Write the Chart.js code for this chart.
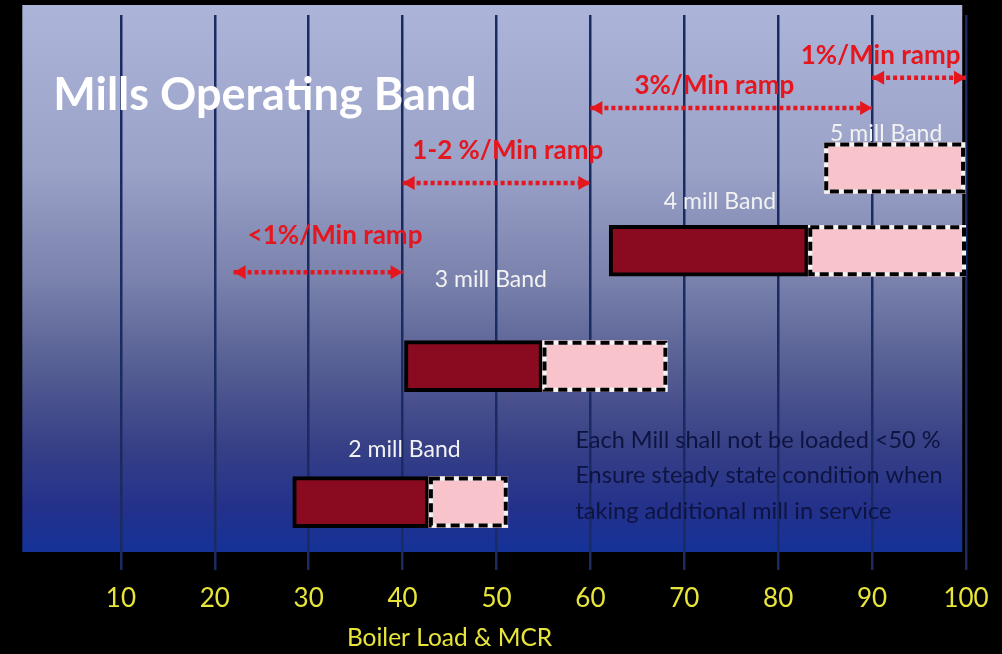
<!DOCTYPE html>
<html><head><meta charset="utf-8">
<script src="https://cdn.jsdelivr.net/npm/chart.js@4.4.1/dist/chart.umd.min.js"></script>
<style>html,body{margin:0;padding:0;background:#000;}canvas{display:block;}</style>
</head><body>
<canvas id="c" width="1002" height="654"></canvas>
<script>
// ---- data ----
const bandNames   = ['2 mill Band', '3 mill Band', '4 mill Band', '5 mill Band'];
const bandRow     = [9.07, 6.54, 4.39, 2.85];
const runStart    = [28.3, 40.2, 62.0, null];
const runEnd      = [42.8, 54.9, 83.2, null];
const spareStart  = [42.8, 54.9, 83.2, 84.9];
const spareEnd    = [51.2, 68.2, 100, 99.9];
const rampLabels  = ['<1%/Min ramp', '1-2 %/Min ramp', '3%/Min ramp', '1%/Min ramp'];
const rampFrom    = [22, 40, 60, 90];
const rampTo      = [40, 60, 90, 100];
const rampRow     = [4.79, 3.13, 1.73, 1.17];
const tickValues  = [10, 20, 30, 40, 50, 60, 70, 80, 90, 100];
const chartTitle  = 'Mills Operating Band';
const axisTitle   = 'Boiler Load & MCR';
const noteLines   = ['Each Mill shall not be loaded <50 %',
                     'Ensure steady state condition when',
                     'taking additional mill in service'];

const RED = '#e5161d';
const YELLOW = '#e8e53a';
const FONT = 'Lato, "Open Sans", sans-serif';

const runData = [], spareData = [];
bandRow.forEach((r, i) => {
  if (runStart[i] !== null) runData.push({ y: r, x: [runStart[i], runEnd[i]] });
  spareData.push({ y: r, x: [spareStart[i], spareEnd[i]] });
});

const rampSets = rampFrom.map((f, i) => ({
  type: 'line',
  indexAxis: 'y',
  label: rampLabels[i],
  data: [{ x: f, y: rampRow[i] }, { x: rampTo[i], y: rampRow[i] }],
  borderColor: RED,
  borderWidth: 4.5,
  borderDash: [4, 3],
  borderCapStyle: 'butt',
  pointRadius: 0,
  fill: false,
  tension: 0,
  order: 0
}));

// ---- plugins ----
const panelPlugin = {
  id: 'panel',
  beforeDraw(chart) {
    const { ctx, chartArea: a, scales: { x } } = chart;
    ctx.save();
    ctx.fillStyle = '#000';
    ctx.fillRect(0, 0, chart.width, chart.height);
    const L = x.getPixelForValue(-0.5), R = x.getPixelForValue(99.6);
    const T = a.top - 10, B = a.bottom;
    const g = ctx.createLinearGradient(0, T, 0, B);
    g.addColorStop(0, '#adb4d9');
    g.addColorStop(0.3, '#9aa2c8');
    g.addColorStop(0.5, '#7a82ad');
    g.addColorStop(0.65, '#586194');
    g.addColorStop(0.8, '#384186');
    g.addColorStop(0.92, '#23318b');
    g.addColorStop(1, '#153298');
    ctx.fillStyle = g;
    ctx.fillRect(L, T, R - L, B - T);
    ctx.restore();
  }
};

const dashPlugin = {
  id: 'dashBorder',
  afterDatasetsDraw(chart) {
    const { ctx } = chart;
    const meta = chart.getDatasetMeta(1);
    meta.data.forEach(el => {
      const p = el.getProps(['x', 'y', 'base', 'height'], true);
      const l = Math.min(p.x, p.base), r = Math.max(p.x, p.base);
      const t = p.y - p.height / 2, b = p.y + p.height / 2;
      ctx.save();
      ctx.lineWidth = 4;
      ctx.strokeStyle = '#f4f4f4';
      ctx.strokeRect(l + 2, t + 2, r - l - 4, b - t - 4);
      ctx.setLineDash([9, 5]);
      ctx.strokeStyle = '#000';
      ctx.strokeRect(l + 2, t + 2, r - l - 4, b - t - 4);
      ctx.restore();
    });
    for (let d = 2; d < chart.data.datasets.length; d++) {
      const pts = chart.getDatasetMeta(d).data;
      if (pts.length < 2) continue;
      const a = pts[0], b = pts[pts.length - 1];
      const head = (tip, dir) => {
        ctx.beginPath();
        ctx.moveTo(tip.x, tip.y);
        ctx.lineTo(tip.x - dir * 12, tip.y - 7);
        ctx.lineTo(tip.x - dir * 12, tip.y + 7);
        ctx.closePath();
        ctx.fill();
      };
      ctx.save();
      ctx.fillStyle = RED;
      head(a, -1);
      head(b, 1);
      ctx.restore();
    }
  }
};

const textPlugin = {
  id: 'texts',
  afterDraw(chart) {
    const { ctx, scales: { x, y }, chartArea: a } = chart;
    const put = (txt, xv, yv, font, color, align) => {
      ctx.font = font;
      ctx.fillStyle = color;
      ctx.textAlign = align;
      ctx.textBaseline = 'middle';
      ctx.fillText(txt, x.getPixelForValue(xv), y.getPixelForValue(yv));
    };
    ctx.save();
    put(chartTitle, 2.8, 1.49, 'bold 45px ' + FONT, '#ffffff', 'left');
    const rampLabelX = [32.8, 51.2, 73.2, 90.9];
    const rampLabelY = [4.10, 2.53, 1.32, 0.76];
    rampLabels.forEach((t, i) => put(t, rampLabelX[i], rampLabelY[i], 'bold 26px ' + FONT, RED, 'center'));
    const bandLabelX = [40.2, 49.4, 73.8, 91.5];
    const bandLabelY = [8.10, 4.93, 3.48, 2.20];
    bandNames.forEach((t, i) => put(t, bandLabelX[i], bandLabelY[i], '23px ' + FONT, '#f2f2f2', 'center'));
    const noteY = [7.93, 8.58, 9.24];
    noteLines.forEach((t, i) => put(t, 58.4, noteY[i], '23.5px ' + FONT, '#0e1440', 'left'));
    ctx.font = '24.5px ' + FONT;
    ctx.fillStyle = YELLOW;
    ctx.textAlign = 'center';
    ctx.textBaseline = 'middle';
    ctx.fillText(axisTitle, x.getPixelForValue(45), a.bottom + 86);
    ctx.restore();
  }
};

new Chart(document.getElementById('c'), {
  type: 'bar',
  data: {
    datasets: [
      { label: 'Running', indexAxis: 'y', data: runData, backgroundColor: '#8a0a1f',
        borderColor: '#000', borderWidth: 4, borderSkipped: false, barThickness: 51,
        grouped: false, order: 2 },
      { label: 'Spare', indexAxis: 'y', data: spareData, backgroundColor: '#f9c3cc',
        borderWidth: 0, borderSkipped: false, barThickness: 51, grouped: false, order: 1 },
      ...rampSets
    ]
  },
  options: {
    indexAxis: 'y',
    responsive: false,
    animation: false,
    events: [],
    layout: { padding: { left: 27, right: 36, top: 15, bottom: 0 } },
    plugins: { legend: { display: false }, tooltip: { enabled: false }, title: { display: false } },
    scales: {
      x: {
        type: 'linear', position: 'bottom', min: 0, max: 100, offset: false,
        afterBuildTicks: s => { s.ticks = tickValues.map(v => ({ value: v })); },
        afterFit: s => { s.height = 102; },
        grid: { color: '#1a2b62', lineWidth: 2.5, tickLength: 18, drawTicks: true, offset: false },
        border: { display: false },
        ticks: { color: YELLOW, font: { family: FONT, size: 26 }, padding: 13,
                 maxRotation: 0, autoSkip: false }
      },
      y: { type: 'linear', min: 0, max: 10, reverse: true, display: false, offset: false,
           grid: { offset: false } }
    }
  },
  plugins: [panelPlugin, dashPlugin, textPlugin]
});
</script>
</body></html>
